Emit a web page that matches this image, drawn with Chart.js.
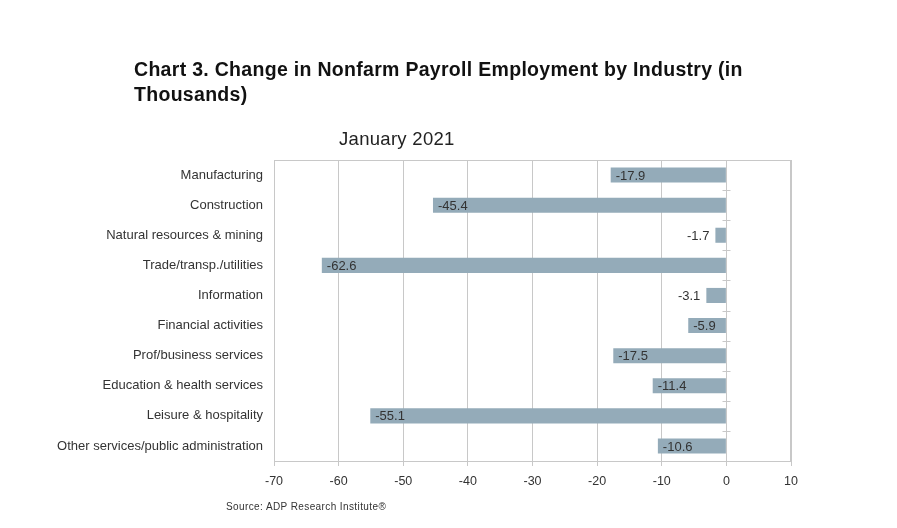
<!DOCTYPE html>
<html>
<head>
<meta charset="utf-8">
<script src="https://cdn.jsdelivr.net/npm/chart.js@4/dist/chart.umd.min.js"></script>
<style>
    body { margin: 0; background: #fff; font-family: "Liberation Sans", Arial, sans-serif; }
    #wrap { position: relative; width: 897px; height: 528px; }
    #chart { position: absolute; left: 0; top: 0; }
    .txt { position: absolute; color: #111; white-space: nowrap; }
    #title { left: 134px; top: 57px; font-size: 19.5px; font-weight: bold; line-height: 25px; letter-spacing: 0.3px; }
    #sub { left: 339px; top: 128px; font-size: 18.5px; color: #222; letter-spacing: 0.3px; }
    #source { left: 226px; top: 501px; font-size: 10px; color: #333; letter-spacing: 0.4px; }
</style>
</head>
<body>
<div id="wrap">
    <canvas id="chart" width="897" height="528"></canvas>
    <div class="txt" id="title">Chart 3. Change in Nonfarm Payroll Employment by Industry (in<br>Thousands)</div>
    <div class="txt" id="sub">January 2021</div>
    <div class="txt" id="source">Source: ADP Research Institute®</div>
</div>
<script>
const industries = [
    'Manufacturing',
    'Construction',
    'Natural resources & mining',
    'Trade/transp./utilities',
    'Information',
    'Financial activities',
    'Prof/business services',
    'Education & health services',
    'Leisure & hospitality',
    'Other services/public administration'
];
const jobChange = [-17.9, -45.4, -1.7, -62.6, -3.1, -5.9, -17.5, -11.4, -55.1, -10.6];
const xMin = -70;
const xMax = 10;
const xStep = 10;

const fontFamily = '"Liberation Sans", Arial, sans-serif';

// Draw the value labels, plus the plot frame and zero-line ticks
const extras = {
    id: 'extras',
    afterDatasetsDraw(chart) {
        const ctx = chart.ctx;
        const area = chart.chartArea;
        const xs = chart.scales.x;
        const ys = chart.scales.y;

        ctx.save();
        ctx.strokeStyle = '#c8c8c8';
        ctx.lineWidth = 1;
        ctx.strokeRect(area.left + 0.5, area.top + 0.5, area.right - area.left - 1, area.bottom - area.top);

        // small ticks on the zero line between categories
        const zx = Math.round(xs.getPixelForValue(0)) + 0.5;
        ctx.beginPath();
        ctx.moveTo(zx, area.top);
        ctx.lineTo(zx, area.bottom);
        for (let i = 0; i < industries.length - 1; i++) {
            const y = Math.round((ys.getPixelForValue(i) + ys.getPixelForValue(i + 1)) / 2) + 0.5;
            ctx.moveTo(zx - 4, y);
            ctx.lineTo(zx + 4, y);
        }
        ctx.stroke();

        ctx.fillStyle = '#333';
        ctx.font = '13px ' + fontFamily;
        ctx.textBaseline = 'middle';
        chart.getDatasetMeta(0).data.forEach((bar, i) => {
            const label = jobChange[i].toFixed(1);
            const w = ctx.measureText(label).width;
            const barWidth = Math.abs(bar.base - bar.x);
            if (barWidth > w + 10) {
                ctx.textAlign = 'left';
                ctx.fillText(label, bar.x + 5, bar.y + 1);
            } else {
                // too short: put it just left of the bar
                ctx.textAlign = 'right';
                ctx.fillText(label, bar.x - 6, bar.y + 1);
            }
        });
        ctx.restore();
    }
};

new Chart(document.getElementById('chart'), {
    type: 'bar',
    data: {
        labels: industries,
        datasets: [{
            data: jobChange,
            backgroundColor: '#94abb9',
            borderWidth: 0,
            barPercentage: 0.5,
            categoryPercentage: 1
        }]
    },
    options: {
        indexAxis: 'y',
        responsive: false,
        animation: false,
        devicePixelRatio: 1,
        layout: { padding: { left: 0, right: 106, top: 160, bottom: 0 } },
        plugins: {
            legend: { display: false },
            tooltip: { enabled: false }
        },
        scales: {
            x: {
                min: xMin,
                max: xMax,
                ticks: {
                    stepSize: xStep,
                    color: '#333',
                    padding: 8,
                    font: { family: fontFamily, size: 12.5 }
                },
                grid: { color: '#c8c8c8', tickLength: 5, tickColor: '#c8c8c8' },
                border: { display: true, color: '#c8c8c8' },
                afterFit(scale) { scale.height = 67; }
            },
            y: {
                ticks: {
                    color: '#333',
                    padding: 11,
                    font: { family: fontFamily, size: 13 }
                },
                grid: { display: false, drawTicks: false },
                border: { display: false },
                afterFit(scale) { scale.width = 274; }
            }
        }
    },
    plugins: [extras]
});
</script>
</body>
</html>
